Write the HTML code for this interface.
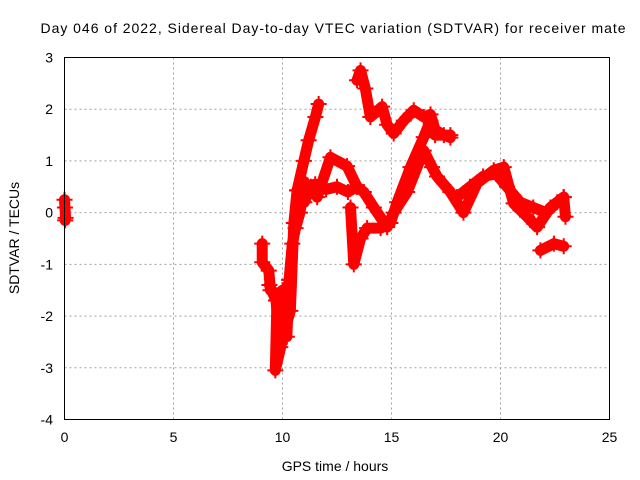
<!DOCTYPE html>
<html><head><meta charset="utf-8"><style>
body{margin:0;background:#fff}
svg{display:block;font-family:"Liberation Sans",sans-serif}
</style></head><body>
<svg id="c" width="640" height="480">
<text x="333" y="33" text-anchor="middle" font-size="14" textLength="585">Day 046 of 2022, Sidereal Day-to-day VTEC variation (SDTVAR) for receiver mate</text>
<g id="grid"></g>
<g id="ticks"></g>
<g id="marks"></g>
<rect x="64.5" y="57.5" width="545" height="362" fill="none" stroke="#000"/>
<text x="335" y="471" text-anchor="middle" font-size="14">GPS time / hours</text>
<text transform="translate(19,238) rotate(-90)" text-anchor="middle" font-size="14">SDTVAR / TECUs</text>
</svg>
<script>
const xTicks=[0,5,10,15,20,25];
const yTicks=[3,2,1,0,-1,-2,-3,-4];
const t1Hours=[0,0.02,0.05,0.03];
const t1Vals=[0.25,0.1,-0.1,-0.15];
const t2Hours=[9.07,9.07,9.37,9.45,9.75,9.67,10.06,10.36,10.52,10.67,10.98,11.2,11.51,11.66];
const t2Vals=[-0.6,-0.96,-1.12,-1.5,-1.6,-3.05,-2.34,-1.9,-0.2,0.43,1.0,1.4,1.85,2.1];
const t7Hours=[9.4,9.7,9.9,10.0,10.2,10.3,10.45,10.6,10.8,11.0];
const t7Vals=[-1.4,-1.7,-2.6,-1.5,-2.4,-1.3,-0.6,-0.3,0.0,0.6];
const t3Hours=[10.67,11.0,11.3,11.59,12.2,12.96,13.42,13.73,14.19,14.8,15.1,15.72,16.48,16.86,17.09,17.7,18.3,18.93,19.69,20.15,20.6,21.22,21.68,22.29,22.9,22.98];
const t3Vals=[0.43,0.2,0.5,0.3,1.07,0.9,0.5,0.4,0.1,-0.28,0.0,0.4,1.2,0.88,0.7,0.4,0.0,0.57,0.82,0.88,0.18,-0.08,-0.28,0.1,0.3,-0.08];
const t8Hours=[11.0,11.5,12.0,12.5,13.0,13.4];
const t8Vals=[0.5,0.55,0.45,0.5,0.4,0.5];
const t4Hours=[13.12,13.27,13.58,13.88,14.5,14.95,15.26,15.87,16.48,16.79,17.0,17.7];
const t4Vals=[0.1,-1.0,-0.5,-0.3,-0.3,-0.2,0.2,0.88,1.46,1.78,1.5,1.5];
const t5Hours=[13.42,13.58,13.8,14.03,14.57,14.8,15.1,15.56,16.02,16.48,16.79,17.0,17.4,17.7];
const t5Vals=[2.56,2.75,2.4,1.85,2.05,1.7,1.53,1.78,1.98,1.85,1.9,1.6,1.5,1.45];
const t9Hours=[18.0,18.6,19.2,19.8,20.3,20.9,21.5,22.1,22.6,22.9];
const t9Vals=[0.3,0.5,0.7,0.75,0.5,0.2,0.1,0.0,0.2,0.3];
const t6Hours=[21.83,22.45,22.9];
const t6Vals=[-0.73,-0.6,-0.65];
const traces=[[t1Hours,t1Vals],[t2Hours,t2Vals],[t7Hours,t7Vals],[t3Hours,t3Vals],[t8Hours,t8Vals],[t4Hours,t4Vals],[t5Hours,t5Vals],[t9Hours,t9Vals],[t6Hours,t6Vals]];
const X=h=>64.5+h*545/25, Y=v=>57.5+(3-v)*362/7;
const NS='http://www.w3.org/2000/svg';
function mk(tag,a,p){const e=document.createElementNS(NS,tag);for(const k in a)e.setAttribute(k,a[k]);p.appendChild(e);return e;}
const grid=document.getElementById('grid'),ticks=document.getElementById('ticks'),marks=document.getElementById('marks');
xTicks.forEach(t=>{const x=X(t);
 if(t>0&&t<25){const l=mk('line',{x1:x,x2:x,y1:57.5,y2:419.5,stroke:'#a0a0a0','stroke-dasharray':'2,3'},grid);}
 const tl=mk('text',{x:x,y:442,'text-anchor':'middle','font-size':14},ticks);tl.textContent=t;
 });
yTicks.forEach(t=>{const y=Y(t);
 if(t<3&&t>-4){const l=mk('line',{x1:64.5,x2:609.5,y1:y,y2:y,stroke:'#a0a0a0','stroke-dasharray':'2,3'},grid);}
 const tl=mk('text',{x:53,y:y+5,'text-anchor':'end','font-size':14},ticks);tl.textContent=t;
 });
traces.forEach(([hs,vs])=>{
 const pts=hs.map((h,i)=>X(h)+','+Y(vs[i])).join(' ');
 const pl=mk('polyline',{points:pts,fill:'none',stroke:'#f00','stroke-width':11,'stroke-linejoin':'round','stroke-linecap':'round'},marks);
 
 hs.forEach((h,i)=>{const x=X(h),y=Y(vs[i]);
  const p=mk('path',{d:`M${x-8},${y}h16M${x},${y-8}v16`,stroke:'#f00','stroke-width':2},marks);
  });
});
</script>
</body></html>
